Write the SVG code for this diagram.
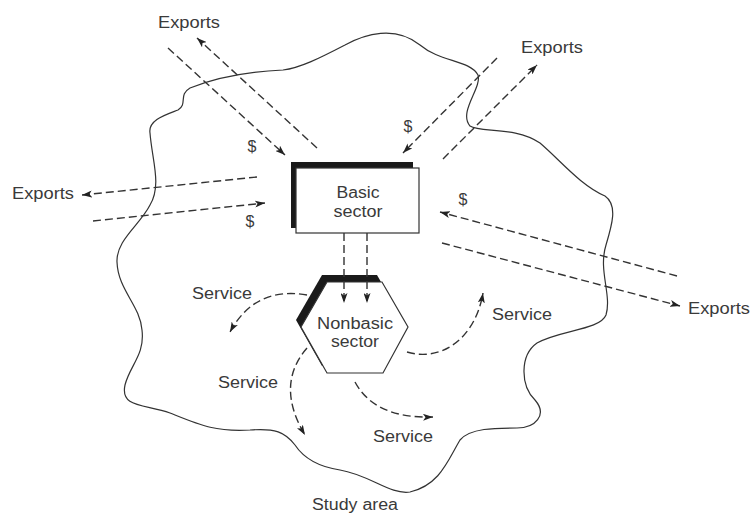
<svg xmlns="http://www.w3.org/2000/svg" width="750" height="513" viewBox="0 0 750 513">
  <defs>
    <style>
      .lbl { font-family: "Liberation Sans", Arial, sans-serif; font-size: 16px; fill: #3a3a3a; text-anchor: middle; }
      .flow { fill: none; stroke: #333; stroke-width: 1.4; stroke-dasharray: 8 4; }
      .outline { fill: none; stroke: #333; stroke-width: 1.2; }
      .face { fill: #fff; stroke: #333; stroke-width: 1.2; }
      .shadow { fill: #1a1a1a; }
    </style>
    <marker id="head" viewBox="0 0 10 7" refX="10" refY="3.5" markerWidth="10" markerHeight="7" markerUnits="userSpaceOnUse" orient="auto">
      <path d="M0,0 L10,3.5 L0,7 L2.5,3.5 Z" fill="#222"/>
    </marker>
  </defs>
  <rect width="750" height="513" fill="#fff"/>

  <!-- study area boundary -->
  <g id="study-area">
    <path class="outline" d="M150,133 C148,120 165,115 178,110 C188,104 178,95 190,88 C210,80 240,72 283,70 C300,68 320,58 345,45 C365,34 395,25 420,45 C440,62 470,60 478,75 C482,88 458,112 470,126 C480,133 515,126 540,143 C560,160 580,185 605,196 C618,205 612,225 606,245 C598,270 612,295 606,315 C600,330 560,330 537,343 C520,355 520,385 535,400 C548,415 535,428 517,428 C495,428 470,428 460,440 C448,460 440,485 410,492 C390,495 370,475 340,470 C320,467 305,460 295,445 C285,432 275,428 250,430 C215,432 200,425 170,413 C145,404 120,408 125,385 C130,365 145,355 142,330 C140,305 118,290 117,262 C116,240 140,225 150,205 C162,185 152,160 150,133 Z"/>
    <text class="lbl" x="355" y="510" textLength="86" lengthAdjust="spacingAndGlyphs">Study area</text>
  </g>

  <!-- basic sector -->
  <g id="basic-sector">
    <rect class="shadow" x="291" y="162" width="122" height="66"/>
    <rect class="face" x="296" y="168" width="123" height="65"/>
    <text class="lbl" x="358" y="198" textLength="43" lengthAdjust="spacingAndGlyphs">Basic</text>
    <text class="lbl" x="358" y="217" textLength="49" lengthAdjust="spacingAndGlyphs">sector</text>
  </g>

  <!-- nonbasic sector -->
  <g id="nonbasic-sector">
    <polygon class="shadow" points="322,275 377,275 403,320 378,366 322,366 296,320"/>
    <polygon class="face" points="327,282 382,282 408,327 383,373 327,373 301,327"/>
    <text class="lbl" x="355" y="329" textLength="76" lengthAdjust="spacingAndGlyphs">Nonbasic</text>
    <text class="lbl" x="355" y="347" textLength="48" lengthAdjust="spacingAndGlyphs">sector</text>
  </g>

  <!-- flows of money, exports and services -->
  <g id="connectors">
    <path class="flow" marker-end="url(#head)" d="M168,48 L285,155"/>
    <path class="flow" marker-end="url(#head)" d="M317,148 L197,38"/>
    <path class="flow" marker-end="url(#head)" d="M497,58 L403,153"/>
    <path class="flow" marker-end="url(#head)" d="M443,159 L537,65"/>
    <path class="flow" marker-end="url(#head)" d="M257,177 L82,195"/>
    <path class="flow" marker-end="url(#head)" d="M93,221 L265,203"/>
    <path class="flow" marker-end="url(#head)" d="M677,276 L440,212"/>
    <path class="flow" marker-end="url(#head)" d="M442,243 L680,306"/>
    <path class="flow" marker-end="url(#head)" d="M344,233 L344,303"/>
    <path class="flow" marker-end="url(#head)" d="M367,233 L367,303"/>
    <path class="flow" marker-end="url(#head)" d="M307,295 Q255,286 230,332"/>
    <path class="flow" marker-end="url(#head)" d="M307,348 Q275,385 305,435"/>
    <path class="flow" marker-end="url(#head)" d="M407,352 C440,362 475,340 483,293"/>
    <path class="flow" marker-end="url(#head)" d="M355,382 C370,410 400,418 433,417"/>
  </g>

  <!-- flow labels -->
  <g id="labels">
    <text class="lbl" x="189" y="28" textLength="62" lengthAdjust="spacingAndGlyphs">Exports</text>
    <text class="lbl" x="552" y="53" textLength="62" lengthAdjust="spacingAndGlyphs">Exports</text>
    <text class="lbl" x="43" y="199" textLength="62" lengthAdjust="spacingAndGlyphs">Exports</text>
    <text class="lbl" x="719" y="314" textLength="62" lengthAdjust="spacingAndGlyphs">Exports</text>
    <text class="lbl" x="252" y="152">$</text>
    <text class="lbl" x="408" y="132">$</text>
    <text class="lbl" x="250" y="227">$</text>
    <text class="lbl" x="463" y="205">$</text>
    <text class="lbl" x="222" y="299" textLength="60" lengthAdjust="spacingAndGlyphs">Service</text>
    <text class="lbl" x="248" y="388" textLength="60" lengthAdjust="spacingAndGlyphs">Service</text>
    <text class="lbl" x="522" y="320" textLength="60" lengthAdjust="spacingAndGlyphs">Service</text>
    <text class="lbl" x="403" y="442" textLength="60" lengthAdjust="spacingAndGlyphs">Service</text>
  </g>
</svg>
